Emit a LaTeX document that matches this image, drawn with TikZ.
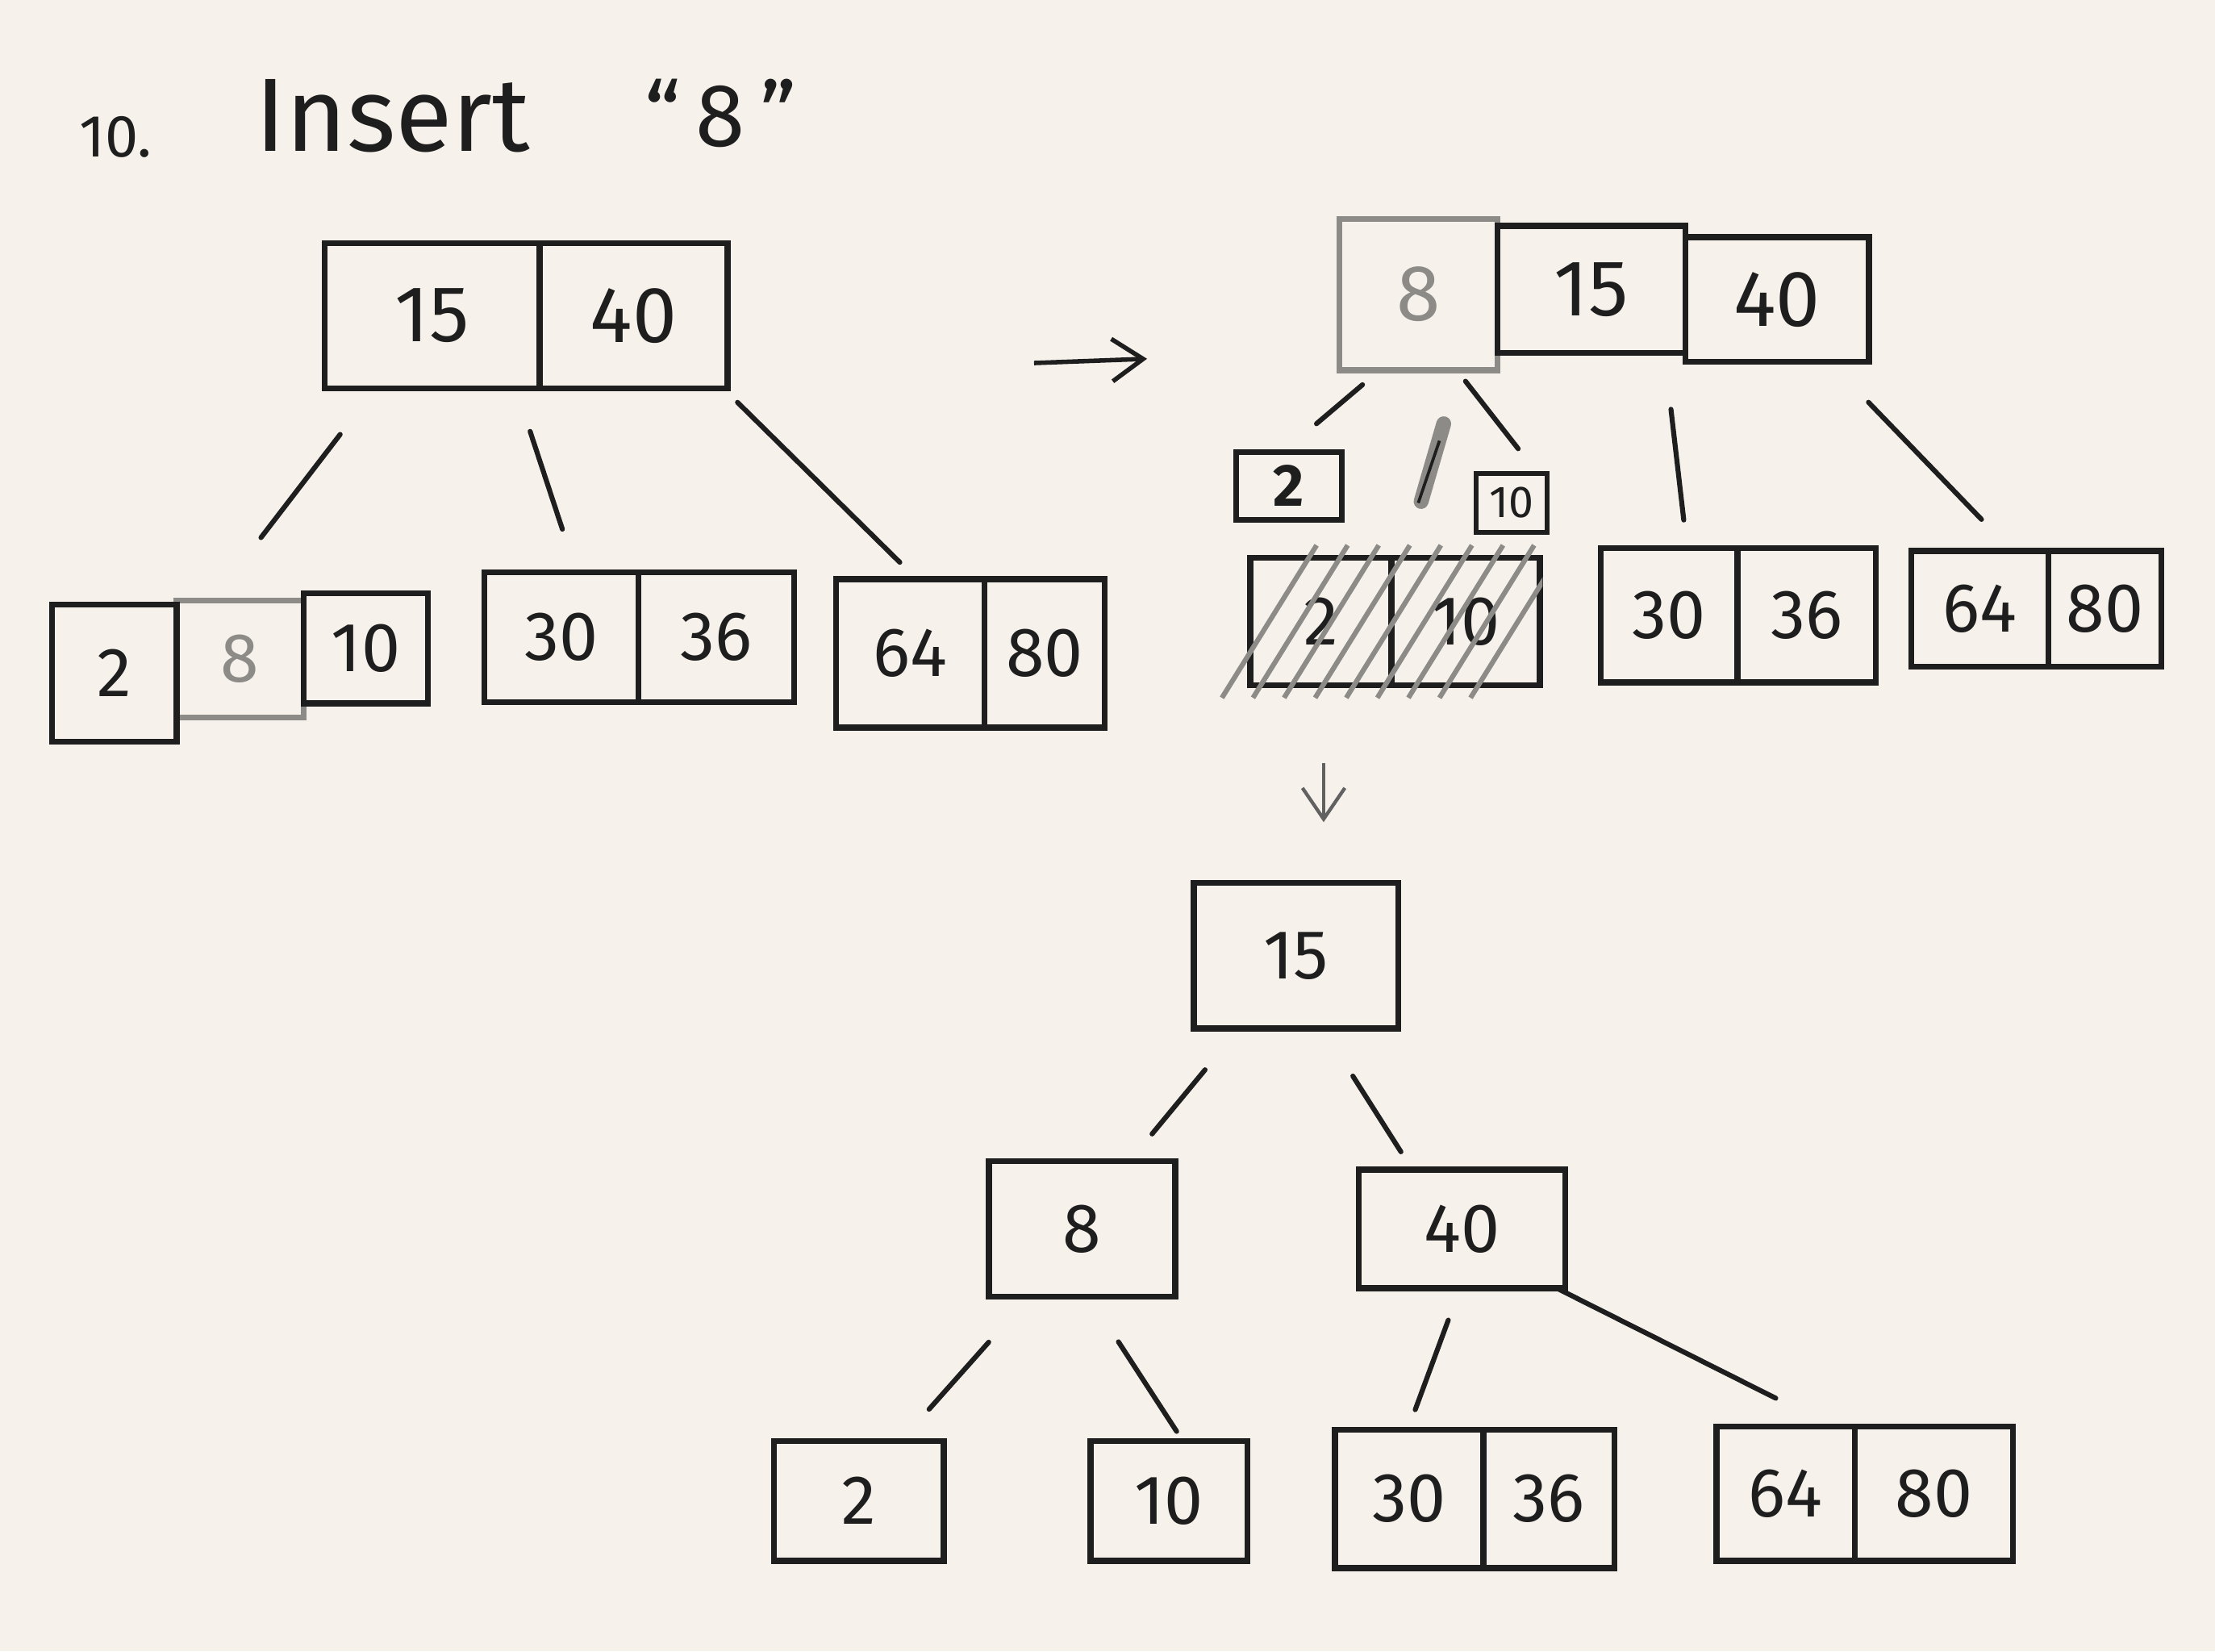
\documentclass[tikz,border=0pt]{standalone}
\usepackage{fontspec}
\setmainfont{Fira Sans}
\usetikzlibrary{arrows.meta}
\definecolor{ink}{HTML}{1E1E1E}
\definecolor{pencil}{HTML}{8C8B87}
\definecolor{paper}{HTML}{F6F1EA}
\tikzset{
  cell/.style   = {draw=ink, line width=1.2pt, rectangle, inner sep=0pt,
                   outer sep=0pt, minimum height=9mm, minimum width=10mm,
                   text=ink, font=\fontsize{14}{16}\selectfont},
  faded/.style  = {cell, draw=pencil, text=pencil},
  keysbig/.style= {font=\fontsize{16}{18}\selectfont},
  keystiny/.style={font=\fontsize{9}{10}\selectfont, line width=1pt},
  link/.style   = {draw=ink, line width=1pt, line cap=round},
  hint/.style   = {-{Straight Barb[length=2.2mm,width=3mm]}, ink, line width=0.9pt},
  hatch/.style  = {draw=pencil, line width=1pt},
}

\begin{document}
\begin{tikzpicture}[x=0.1mm,y=-0.1mm]
% paper
\fill[paper] (0,0) rectangle (1568,1169);
\useasboundingbox (0,0) rectangle (1568,1169);
% title
\node[text=ink,font=\fontsize{12}{14}\selectfont] (num) at (82,97) {10.};
\node[text=ink,font=\fontsize{21}{24}\selectfont] (title) at (278,82) {Insert};
\node[text=ink,font=\fontsize{18}{20}\selectfont] (what) at (510,80) {“\,8\,”};

% before: root and leaves
\node[cell,keysbig,minimum width=15.2mm,minimum height=10.3mm] (r15) at (306,223.5) {15};
\node[cell,keysbig,minimum width=13.3mm,minimum height=10.3mm] (r40) at (448.5,223.5) {40};
\node[faded,minimum width=9mm,minimum height=8.3mm] (a8) at (170,466.5) {8};
\node[cell,minimum width=8.8mm,minimum height=9.7mm] (a2) at (81,476.5) {2};
\node[cell,minimum width=8.8mm,minimum height=7.8mm] (a10) at (259,459) {10};
\node[cell,minimum width=10.9mm,minimum height=9.2mm] (b30) at (397.5,451) {30};
\node[cell,minimum width=11mm,minimum height=9.2mm] (b36) at (507,451) {36};
\node[cell,minimum width=10.5mm,minimum height=10.5mm] (c64) at (644.5,462.5) {64};
\node[cell,minimum width=8.5mm,minimum height=10.5mm] (c80) at (739.5,462.5) {80};
\draw[link,shorten <=4.1mm,shorten >=5.6mm] (r15.-128) -- (a8.115);
\draw[link,shorten <=3.2mm,shorten >=3.2mm] (r15.-41) -- (b30.77);
\draw[link,shorten <=1.4mm,shorten >=1.7mm] (r40.-39) -- (c64.85);

% step arrow
\coordinate (stepA) at (732,257);
\coordinate (stepB) at (812,254);
\draw[hint] (stepA) -- (stepB);

% overflow: root takes 8, leaf splits
\node[faded,keysbig,minimum width=11.2mm,minimum height=10.7mm] (t8) at (1004,208.5) {8};
\node[cell,keysbig,minimum width=13.3mm,minimum height=9mm] (t15) at (1126.5,205) {15};
\node[cell,keysbig,minimum width=13mm,minimum height=8.8mm] (t40) at (1258,212) {40};
\node[cell,font=\fontsize{12}{14}\bfseries,minimum width=7.5mm,minimum height=4.8mm] (s2) at (912.5,344) {2};
\node[cell,keystiny,minimum width=5mm,minimum height=4.2mm] (s10) at (1070,356) {10};
\node[cell,minimum width=10mm,minimum height=9mm] (h2) at (935,440) {2};
\node[cell,minimum width=10.5mm,minimum height=9mm] (h10) at (1037.5,440) {10};
\node[cell,minimum width=9.7mm,minimum height=9.5mm] (d30) at (1181.5,435.5) {30};
\node[cell,minimum width=9.8mm,minimum height=9.5mm] (d36) at (1279,435.5) {36};
\node[cell,minimum width=9.7mm,minimum height=8.2mm] (f64) at (1401.5,431) {64};
\node[cell,minimum width=8mm,minimum height=8.2mm] (f80) at (1490,431) {80};
\draw[link,shorten <=1.6mm,shorten >=3.1mm] (t8.-117) -- (s2.100);
\draw[link,shorten <=1mm,shorten >=2.2mm] (t8.-63) -- (s10.49);
\draw[link,shorten <=4mm,shorten >=2mm] (t15.-41) -- (d30.75);
\draw[link,shorten <=4mm,shorten >=3.1mm] (t40.-50) -- (f64.61);
% old leaf crossed out
\begin{scope}
  \clip (860,380) rectangle (1092,497);
  \foreach \x in {880,902,...,1060} \draw[hatch] (\x-15,494) -- (\x+52,386);
\end{scope}
% rubbed-out pointer
\draw[pencil,line width=3pt,line cap=round] (1022,300) -- (1006,355);
\draw[ink,line width=0.6pt] (1019,312) -- (1004,356);

% second step arrow
\coordinate (downA) at (937,540);
\coordinate (downB) at (937,582);
\draw[hint,line width=0.7pt,draw=ink!70] (downA) -- (downB);

% result
\node[cell,minimum width=14.5mm,minimum height=10.3mm] (m15) at (917.5,676.5) {15};
\node[cell,minimum width=13.2mm,minimum height=9.6mm] (m8) at (766,870) {8};
\node[cell,minimum width=14.6mm,minimum height=8.4mm] (m40) at (1035,870) {40};
\node[cell,minimum width=12mm,minimum height=8.5mm] (n2) at (608,1062.5) {2};
\node[cell,minimum width=11.1mm,minimum height=8.5mm] (n10) at (827.5,1062.5) {10};
\node[cell,minimum width=10.5mm,minimum height=9.8mm] (n30) at (997.5,1061) {30};
\node[cell,minimum width=9.3mm,minimum height=9.8mm] (n36) at (1096.5,1061) {36};
\node[cell,minimum width=9.8mm,minimum height=9.5mm] (n64) at (1264,1057.5) {64};
\node[cell,minimum width=11.2mm,minimum height=9.5mm] (n80) at (1369,1057.5) {80};
\draw[link,shorten <=3.8mm,shorten >=2.5mm] (m15.-128) -- (m8.55);
\draw[link,shorten <=4mm,shorten >=1.5mm] (m15.-70) -- (m40.130);
\draw[link,shorten <=4.3mm,shorten >=3mm] (m8.-128) -- (n2.55);
\draw[link,shorten <=3.8mm,shorten >=0.8mm] (m8.-84) -- (n10.77);
\draw[link,shorten <=2.4mm,shorten >=1.5mm] (m40.-92) -- (n30.91);
\draw[link,shorten >=4.5mm] (m40.-32) -- (n64.55);
\end{tikzpicture}
\end{document}
